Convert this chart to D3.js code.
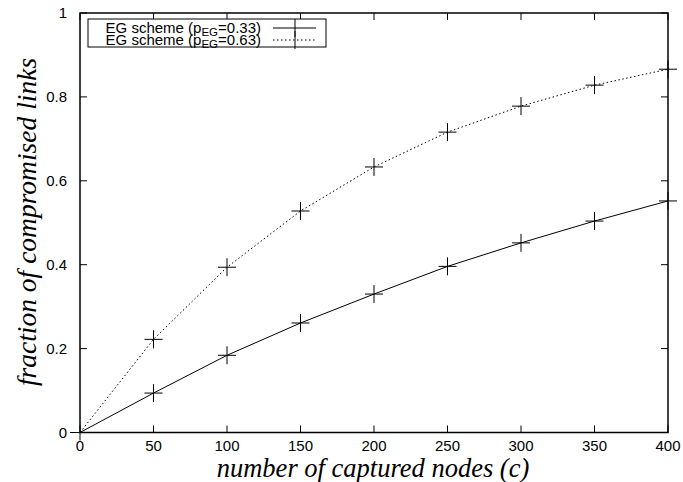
<!DOCTYPE html>
<html><head><meta charset="utf-8">
<script src="https://cdn.jsdelivr.net/npm/d3@7"></script>
<style>body{margin:0;background:#fff;} svg{display:block;}</style>
</head><body>
<svg id="chart" width="683" height="482"></svg>
<script>
const xValues = [0, 50, 100, 150, 200, 250, 300, 350, 400];
const series033 = [0, 0.094, 0.184, 0.261, 0.330, 0.396, 0.452, 0.504, 0.552];
const series063 = [0, 0.222, 0.394, 0.528, 0.633, 0.716, 0.778, 0.828, 0.866];
const xTicks = [0, 50, 100, 150, 200, 250, 300, 350, 400];
const yTicks = [0, 0.2, 0.4, 0.6, 0.8, 1];
const yTickLabels = ["0", "0.2", "0.4", "0.6", "0.8", "1"];
const legendLabels = [["EG scheme (p", "EG", "=0.33)"], ["EG scheme (p", "EG", "=0.63)"]];

const svg = d3.select("#chart");
const L = 80, R = 668, T = 13, B = 432.5;
const x = d3.scaleLinear().domain([0, 400]).range([L, R]);
const y = d3.scaleLinear().domain([0, 1]).range([B, T]);
const sans = "Liberation Sans, Arial, sans-serif";
const serif = "Liberation Serif, Times New Roman, DejaVu Serif, serif";

// ticks (inner, mirrored)
const tl = 7;
const g = svg.append("g").attr("stroke", "#000").attr("stroke-width", 1);
xTicks.forEach(v => {
  g.append("line").attr("x1", x(v)).attr("x2", x(v)).attr("y1", B).attr("y2", B - tl);
  g.append("line").attr("x1", x(v)).attr("x2", x(v)).attr("y1", T).attr("y2", T + tl);
});
yTicks.forEach(v => {
  g.append("line").attr("x1", L).attr("x2", L + tl).attr("y1", y(v)).attr("y2", y(v));
  g.append("line").attr("x1", R).attr("x2", R - tl).attr("y1", y(v)).attr("y2", y(v));
});
// small extensions at origin
g.append("line").attr("x1", 70).attr("x2", L).attr("y1", B).attr("y2", B);
g.append("line").attr("x1", L).attr("x2", L).attr("y1", B).attr("y2", B + 8);

// tick labels
svg.append("g").selectAll("text").data(xTicks).join("text")
  .attr("x", d => x(d)).attr("y", 451).attr("text-anchor", "middle")
  .attr("font-family", sans).attr("font-size", 15).text(d => d);
svg.append("g").selectAll("text").data(yTicks).join("text")
  .attr("x", 67).attr("y", d => y(d) + 5).attr("text-anchor", "end")
  .attr("font-family", sans).attr("font-size", 15).text((d, i) => yTickLabels[i]);

// axis titles
svg.append("text").attr("x", 373).attr("y", 477).attr("text-anchor", "middle")
  .attr("font-family", serif).attr("font-style", "italic").attr("font-size", 26.5)
  .text("number of captured nodes (c)");
svg.append("text").attr("transform", `translate(36,222) rotate(-90)`)
  .attr("text-anchor", "middle")
  .attr("font-family", serif).attr("font-style", "italic").attr("font-size", 27.5)
  .text("fraction of compromised links");

// lines
const line = d3.line().x(d => x(d[0])).y(d => y(d[1]));
const d1 = xValues.map((v, i) => [v, series033[i]]);
const d2 = xValues.map((v, i) => [v, series063[i]]);
svg.append("path").datum(d1).attr("d", line).attr("fill", "none").attr("stroke", "#000").attr("stroke-width", 1);
svg.append("path").datum(d2).attr("d", line).attr("fill", "none").attr("stroke", "#000").attr("stroke-width", 1).attr("stroke-dasharray", "1.5,2.5");

const cs = 9;
function crosses(data) {
  const gg = svg.append("g").attr("stroke", "#000").attr("stroke-width", 1);
  data.forEach(d => {
    gg.append("line").attr("x1", x(d[0]) - cs).attr("x2", x(d[0]) + cs).attr("y1", y(d[1])).attr("y2", y(d[1]));
    gg.append("line").attr("x1", x(d[0])).attr("x2", x(d[0])).attr("y1", y(d[1]) - cs).attr("y2", y(d[1]) + cs);
  });
}
crosses(d1.slice(1));
crosses(d2.slice(1));

// legend
svg.append("rect").attr("x", 88).attr("y", 19).attr("width", 238).attr("height", 28)
  .attr("fill", "#fff").attr("stroke", "#000").attr("stroke-width", 1);
const ly = [28, 40];
legendLabels.forEach((lab, i) => {
  const t = svg.append("text").attr("x", 261).attr("y", ly[i] + 4.5).attr("text-anchor", "end")
    .attr("font-family", sans).attr("font-size", 15);
  t.append("tspan").text(lab[0]);
  t.append("tspan").attr("font-size", 11.5).attr("dy", 3).text(lab[1]);
  t.append("tspan").attr("dy", -3).text(lab[2]);
  const ln = svg.append("line").attr("x1", 273).attr("x2", 316).attr("y1", ly[i]).attr("y2", ly[i])
    .attr("stroke", "#000").attr("stroke-width", 1);
  if (i === 1) ln.attr("stroke-dasharray", "1.5,2.5");
  svg.append("line").attr("x1", 295).attr("x2", 295).attr("y1", ly[i] - cs).attr("y2", ly[i] + cs)
    .attr("stroke", "#000").attr("stroke-width", 1);
});

// frame
svg.append("rect").attr("x", L).attr("y", T).attr("width", R - L).attr("height", B - T)
  .attr("fill", "none").attr("stroke", "#000").attr("stroke-width", 1.5);
</script>
</body></html>
